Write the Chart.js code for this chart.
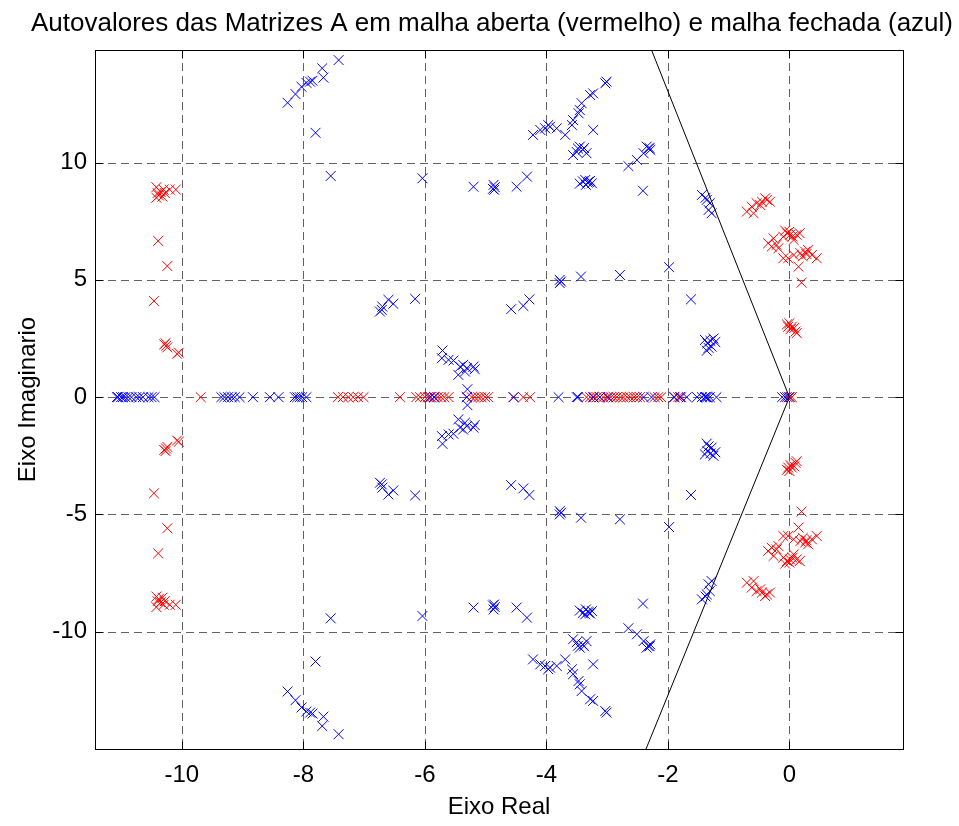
<!DOCTYPE html>
<html>
<head>
<meta charset="utf-8">
<script src="https://cdn.jsdelivr.net/npm/chart.js@4/dist/chart.umd.min.js"></script>
<style>
  html, body { margin: 0; padding: 0; background: #fff; }
  #wrap { width: 959px; height: 826px; position: relative; }
</style>
</head>
<body>
<div id="wrap"><canvas id="c" width="959" height="826"></canvas></div>
<script>
// Eigenvalues of the open-loop matrices (malha aberta) -- plotted in red
const abertaReais = [
  -9.69, -7.43, -7.35, -7.26, -7.18, -7.10, -7.01, -6.41,
  -6.14, -6.08, -6.00, -5.95, -5.90, -5.84, -5.79, -5.73, -5.68, -5.61,
  -5.31, -5.23, -5.18, -5.12, -5.07, -5.01, -4.96, -4.54, -4.38, -4.27,
  -3.34, -3.28, -3.22, -3.17, -3.12, -3.06, -3.00, -2.94, -2.89, -2.84,
  -2.78, -2.73, -2.67, -2.62, -2.56, -2.51, -2.46, -2.22, -2.16, -2.11,
  -1.89, -1.83, -1.78, -0.04, 0.01, 0.04
];
// complex eigenvalues, upper half-plane [re, im]
const abertaSup = [
  [-10.42, 8.95], [-10.35, 8.75], [-10.38, 8.60], [-10.30, 8.85], [-10.20, 8.85],
  [-10.10, 8.85], [-10.42, 8.50], [-10.32, 8.55], [-10.40, 8.70], [-10.28, 8.70],
  [-10.39, 6.66], [-10.24, 5.59], [-10.46, 4.10], [-10.26, 2.19], [-10.29, 2.25],
  [-10.24, 2.12], [-10.27, 2.30], [-10.08, 1.85], [-10.05, 1.90],
  [-0.70, 7.91], [-0.62, 8.12], [-0.54, 8.27], [-0.45, 8.33], [-0.40, 8.48],
  [-0.37, 8.41], [-0.32, 8.33], [-0.59, 7.84], [-0.48, 8.19],
  [-0.35, 6.56], [-0.26, 6.77], [-0.21, 6.49], [-0.10, 6.84], [-0.04, 6.99],
  [0.01, 6.92], [0.07, 6.70], [0.12, 6.92], [0.17, 6.99], [-0.07, 7.10],
  [0.00, 7.05], [0.05, 6.85], [-0.29, 6.42], [-0.18, 6.35], [-0.10, 5.92],
  [-0.02, 5.92], [0.07, 6.06], [0.18, 6.14], [0.26, 6.20], [0.31, 6.27],
  [0.37, 6.06], [0.45, 5.92], [0.15, 5.56], [0.28, 6.10], [0.22, 6.00],
  [0.20, 4.88],
  [-0.04, 3.10], [0.00, 3.15], [0.04, 3.00], [0.08, 2.95], [0.10, 2.80],
  [0.12, 2.73], [0.02, 2.90], [-0.02, 3.00]
];
// complex conjugates, lower half-plane [re, im]
const abertaInf = [
  [-10.42, -8.95], [-10.35, -8.75], [-10.38, -8.60], [-10.30, -8.85], [-10.20, -8.85],
  [-10.10, -8.85], [-10.42, -8.50], [-10.32, -8.55], [-10.40, -8.70], [-10.28, -8.70],
  [-10.39, -6.66], [-10.24, -5.59], [-10.46, -4.10], [-10.26, -2.19], [-10.29, -2.25],
  [-10.24, -2.12], [-10.27, -2.30], [-10.08, -1.85], [-10.05, -1.90],
  [-0.70, -7.91], [-0.62, -8.12], [-0.54, -8.27], [-0.45, -8.33], [-0.40, -8.48],
  [-0.37, -8.41], [-0.32, -8.33], [-0.59, -7.84], [-0.48, -8.19],
  [-0.35, -6.56], [-0.26, -6.77], [-0.21, -6.49], [-0.10, -6.84], [-0.04, -6.99],
  [0.01, -6.92], [0.07, -6.70], [0.12, -6.92], [0.17, -6.99], [-0.07, -7.10],
  [0.00, -7.05], [0.05, -6.85], [-0.29, -6.42], [-0.18, -6.35], [-0.10, -5.92],
  [-0.02, -5.92], [0.07, -6.06], [0.18, -6.14], [0.26, -6.20], [0.31, -6.27],
  [0.37, -6.06], [0.45, -5.92], [0.15, -5.56], [0.28, -6.10], [0.22, -6.00],
  [0.20, -4.88],
  [-0.04, -3.10], [0.00, -3.15], [0.04, -3.00], [0.08, -2.95], [0.10, -2.80],
  [0.12, -2.73], [0.02, -2.90], [-0.02, -3.00]
];

// Eigenvalues of the closed-loop matrices (malha fechada) -- plotted in blue
const fechadaReais = [
  -11.07, -11.05, -11.00, -10.97, -10.93, -10.88, -10.83, -10.75, -10.70,
  -10.64, -10.55, -10.50, -10.45, -9.35, -9.30, -9.24, -9.18, -9.13, -9.05,
  -8.83, -8.55, -8.41, -8.14, -8.10, -8.06, -8.02, -7.95, -5.92, -5.85,
  -5.31, -4.54, -3.80, -3.50, -3.48, -3.23, -3.12, -2.98, -2.40, -2.27,
  -1.90, -1.80, -1.69, -1.52, -1.44, -1.39, -1.37, -1.35, -1.31, -1.20,
  -0.12, -0.07, -0.01
];
const fechadaSup = [
  [-7.42, 14.37], [-7.69, 14.02], [-7.67, 13.62], [-7.85, 13.49], [-7.89, 13.45],
  [-7.95, 13.40], [-8.03, 13.23], [-8.13, 12.92], [-8.26, 12.55], [-7.80, 11.27],
  [-7.55, 9.43],
  [-6.04, 9.33], [-5.20, 8.97], [-4.87, 9.05], [-4.85, 8.95], [-4.88, 8.88],
  [-4.86, 8.84], [-4.49, 8.97], [-4.32, 9.40],
  [-4.22, 11.18], [-4.10, 11.39], [-4.02, 11.46], [-3.97, 11.60], [-3.94, 11.53],
  [-3.83, 11.46], [-3.69, 11.18], [-3.58, 11.60], [-3.56, 11.81], [-3.47, 12.10],
  [-3.45, 12.24], [-3.42, 12.53], [-3.28, 12.88], [-3.23, 12.95], [-3.03, 13.38],
  [-3.01, 13.45], [-3.23, 11.39],
  [-3.56, 10.32], [-3.50, 10.45], [-3.45, 10.68], [-3.40, 10.55], [-3.34, 10.40],
  [-3.48, 10.60], [-3.38, 10.62],
  [-3.45, 9.10], [-3.40, 9.20], [-3.36, 9.26], [-3.32, 9.15], [-3.28, 9.22],
  [-3.25, 9.12], [-3.35, 9.05], [-3.30, 9.18],
  [-2.65, 9.85], [-2.51, 10.11], [-2.40, 10.40], [-2.32, 10.61], [-2.29, 10.54],
  [-2.35, 10.68], [-2.30, 10.62], [-2.41, 8.80],
  [-1.44, 8.62], [-1.36, 8.41], [-1.31, 8.27], [-1.33, 7.98], [-1.28, 7.84], [-1.38, 8.50],
  [-6.71, 3.72], [-6.70, 3.86], [-6.60, 4.15], [-6.52, 3.98], [-6.74, 3.65], [-6.16, 4.19],
  [-5.71, 1.99], [-5.72, 1.66], [-5.61, 1.59], [-5.53, 1.56], [-5.42, 1.30],
  [-5.37, 1.38], [-5.31, 1.24], [-5.20, 1.30], [-5.18, 1.19], [-5.45, 0.95],
  [-5.34, 1.09], [-5.30, 0.34],
  [-4.58, 3.75], [-4.38, 3.89], [-4.28, 4.17],
  [-3.78, 5.00], [-3.78, 4.86], [-3.76, 4.93], [-3.43, 5.14], [-2.79, 5.21],
  [-1.98, 5.54], [-1.62, 4.17],
  [-1.39, 2.44], [-1.35, 2.30], [-1.30, 2.40], [-1.25, 2.50], [-1.33, 2.10],
  [-1.36, 1.98], [-1.28, 2.15], [-1.22, 2.35]
];
const fechadaInf = [
  [-7.42, -14.37], [-7.69, -14.02], [-7.67, -13.62], [-7.85, -13.49], [-7.89, -13.45],
  [-7.95, -13.40], [-8.03, -13.23], [-8.13, -12.92], [-8.26, -12.55], [-7.80, -11.27],
  [-7.55, -9.43],
  [-6.04, -9.33], [-5.20, -8.97], [-4.87, -9.05], [-4.85, -8.95], [-4.88, -8.88],
  [-4.86, -8.84], [-4.49, -8.97], [-4.32, -9.40],
  [-4.22, -11.18], [-4.10, -11.39], [-4.02, -11.46], [-3.97, -11.60], [-3.94, -11.53],
  [-3.83, -11.46], [-3.69, -11.18], [-3.58, -11.60], [-3.56, -11.81], [-3.47, -12.10],
  [-3.45, -12.24], [-3.42, -12.53], [-3.28, -12.88], [-3.23, -12.95], [-3.03, -13.38],
  [-3.01, -13.45], [-3.23, -11.39],
  [-3.56, -10.32], [-3.50, -10.45], [-3.45, -10.68], [-3.40, -10.55], [-3.34, -10.40],
  [-3.48, -10.60], [-3.38, -10.62],
  [-3.45, -9.10], [-3.40, -9.20], [-3.36, -9.26], [-3.32, -9.15], [-3.28, -9.22],
  [-3.25, -9.12], [-3.35, -9.05], [-3.30, -9.18],
  [-2.65, -9.85], [-2.51, -10.11], [-2.40, -10.40], [-2.32, -10.61], [-2.29, -10.54],
  [-2.35, -10.68], [-2.30, -10.62], [-2.41, -8.80],
  [-1.44, -8.62], [-1.36, -8.41], [-1.31, -8.27], [-1.33, -7.98], [-1.28, -7.84], [-1.38, -8.50],
  [-6.71, -3.72], [-6.70, -3.86], [-6.60, -4.15], [-6.52, -3.98], [-6.74, -3.65], [-6.16, -4.19],
  [-5.71, -1.99], [-5.72, -1.66], [-5.61, -1.59], [-5.53, -1.56], [-5.42, -1.30],
  [-5.37, -1.38], [-5.31, -1.24], [-5.20, -1.30], [-5.18, -1.19], [-5.45, -0.95],
  [-5.34, -1.09], [-5.30, -0.34],
  [-4.58, -3.75], [-4.38, -3.89], [-4.28, -4.17],
  [-3.78, -5.00], [-3.78, -4.86], [-3.76, -4.93], [-3.43, -5.14], [-2.79, -5.21],
  [-1.98, -5.54], [-1.62, -4.17],
  [-1.39, -2.44], [-1.35, -2.30], [-1.30, -2.40], [-1.25, -2.50], [-1.33, -2.10],
  [-1.36, -1.98], [-1.28, -2.15], [-1.22, -2.35]
];

// Constant-damping boundary lines through the origin [re, im]
const linhaAmortecimento = [[-2.30, 15.0], [0, 0], [-2.36, -15.0]];

// Axis ranges and tick values
const eixoRealLim = [-11.43, 1.87];
const eixoImagLim = [-15.0, 14.8];
const ticksReal = [-10, -8, -6, -4, -2, 0];
const ticksImag = [-10, -5, 0, 5, 10];

const titulo = 'Autovalores das Matrizes A em malha aberta (vermelho) e malha fechada (azul)';
const rotuloX = 'Eixo Real';
const rotuloY = 'Eixo Imaginario';

const FONT = '"Liberation Sans", Arial, Helvetica, sans-serif';

const toPts = (arr) => arr.map(([re, im]) => ({ x: re, y: im }));
const realPts = (arr) => arr.map((re) => ({ x: re, y: 0 }));

// Frame, dashed grid, inward tick marks and texts (MATLAB-style axes)
const axesDecor = {
  id: 'axesDecor',
  beforeDatasetsDraw(chart) {
    const { ctx, chartArea: a, scales: { x, y } } = chart;
    ctx.save();
    ctx.strokeStyle = 'rgba(0,0,0,0.62)';
    ctx.lineWidth = 1;
    ctx.setLineDash([8, 5]);
    x.ticks.forEach((t) => {
      const px = Math.round(x.getPixelForValue(t.value)) + 0.5;
      ctx.beginPath(); ctx.moveTo(px, a.top); ctx.lineTo(px, a.bottom); ctx.stroke();
    });
    y.ticks.forEach((t) => {
      const py = Math.round(y.getPixelForValue(t.value)) + 0.5;
      ctx.beginPath(); ctx.moveTo(a.left, py); ctx.lineTo(a.right, py); ctx.stroke();
    });
    ctx.restore();
  },
  afterDatasetsDraw(chart) {
    const { ctx, chartArea: a, scales: { x, y } } = chart;
    const L = Math.round(a.left) + 0.5, R = Math.round(a.right) + 0.5;
    const T = Math.round(a.top) + 0.5, B = Math.round(a.bottom) + 0.5;
    const tl = 8;
    ctx.save();
    ctx.strokeStyle = '#000';
    ctx.lineWidth = 1;
    ctx.setLineDash([]);
    ctx.strokeRect(L, T, R - L, B - T);
    ctx.beginPath();
    x.ticks.forEach((t) => {
      const px = Math.round(x.getPixelForValue(t.value)) + 0.5;
      ctx.moveTo(px, B); ctx.lineTo(px, B - tl);
      ctx.moveTo(px, T); ctx.lineTo(px, T + tl);
    });
    y.ticks.forEach((t) => {
      const py = Math.round(y.getPixelForValue(t.value)) + 0.5;
      ctx.moveTo(L, py); ctx.lineTo(L + tl, py);
      ctx.moveTo(R, py); ctx.lineTo(R - tl, py);
    });
    ctx.stroke();
    ctx.restore();
  },
  afterDraw(chart) {
    const { ctx, chartArea: a } = chart;
    const cx = (a.left + a.right) / 2;
    const cy = (a.top + a.bottom) / 2;
    ctx.save();
    ctx.fillStyle = '#000';
    ctx.textAlign = 'center';
    ctx.textBaseline = 'alphabetic';
    ctx.font = '26px ' + FONT;
    ctx.fillText(titulo, 492, 31);
    ctx.font = '24px ' + FONT;
    ctx.fillText(rotuloX, cx, 814);
    ctx.translate(35, cy);
    ctx.rotate(-Math.PI / 2);
    ctx.fillText(rotuloY, 0, 0);
    ctx.restore();
  }
};

const crossStyle = { pointStyle: 'crossRot', pointRadius: 7, pointHoverRadius: 7, borderWidth: 1 };

new Chart(document.getElementById('c'), {
  type: 'scatter',
  data: {
    datasets: [
      { label: 'malha aberta', data: [...realPts(abertaReais), ...toPts(abertaSup), ...toPts(abertaInf)],
        borderColor: '#ff0000', backgroundColor: '#ff0000', ...crossStyle, order: 2 },
      { label: 'malha fechada', data: [...realPts(fechadaReais), ...toPts(fechadaSup), ...toPts(fechadaInf)],
        borderColor: '#0000ff', backgroundColor: '#0000ff', ...crossStyle, order: 1 },
      { label: 'amortecimento', type: 'line', data: toPts(linhaAmortecimento),
        borderColor: '#000', borderWidth: 1, pointRadius: 0, fill: false, tension: 0, order: 0 }
    ]
  },
  plugins: [axesDecor],
  options: {
    responsive: false,
    animation: false,
    devicePixelRatio: 1,
    layout: { padding: { top: 50, right: 56, left: 0, bottom: 0 } },
    plugins: { legend: { display: false }, tooltip: { enabled: false }, title: { display: false } },
    scales: {
      x: {
        type: 'linear', min: eixoRealLim[0], max: eixoRealLim[1],
        afterBuildTicks: (s) => { s.ticks = ticksReal.map((v) => ({ value: v })); },
        afterFit: (s) => { s.height = 77; },
        grid: { display: false, drawTicks: false },
        border: { display: false },
        ticks: { color: '#000', padding: 12, maxRotation: 0, autoSkip: false,
          font: { family: FONT, size: 24 }, callback: (v) => String(v) }
      },
      y: {
        type: 'linear', min: eixoImagLim[0], max: eixoImagLim[1],
        afterBuildTicks: (s) => { s.ticks = ticksImag.map((v) => ({ value: v })); },
        afterFit: (s) => { s.width = 95; },
        grid: { display: false, drawTicks: false },
        border: { display: false },
        ticks: { color: '#000', padding: 8, autoSkip: false,
          font: { family: FONT, size: 24 }, callback: (v) => String(v) }
      }
    }
  }
});
</script>
</body>
</html>
